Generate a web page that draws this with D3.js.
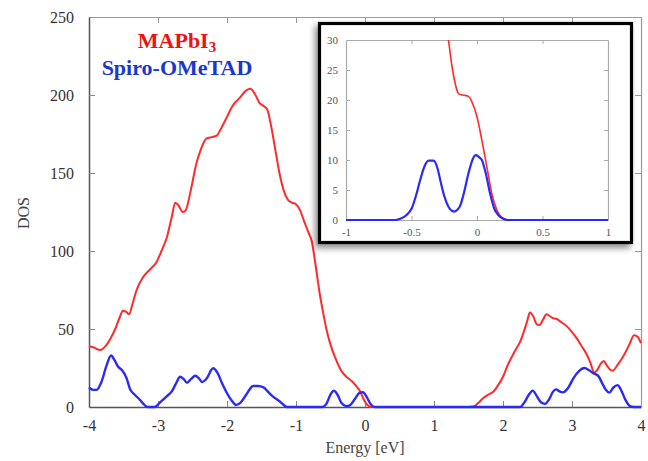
<!DOCTYPE html>
<html>
<head>
<meta charset="utf-8">
<script src="https://cdn.jsdelivr.net/npm/d3@7"></script>
<style>
  html, body { margin: 0; padding: 0; background: #fff; }
  svg { display: block; }
  text { font-family: "Liberation Serif", "DejaVu Serif", serif; }
</style>
</head>
<body>
<svg id="chart" width="648" height="461"></svg>
<script>
// ---------------- data ----------------
const seriesNames = ["MAPbI", "Spiro-OMeTAD"];
const xTicks = [-4, -3, -2, -1, 0, 1, 2, 3, 4];
const yTicks = [0, 50, 100, 150, 200, 250];
const insetXTicks = [-1, -0.5, 0, 0.5, 1];
const insetYTicks = [0, 5, 10, 15, 20, 25, 30];

const mapbiEnergy = [-4.0,-3.92,-3.84,-3.76,-3.70,-3.62,-3.55,-3.51,-3.46,-3.42,-3.37,-3.31,-3.22,-3.12,-3.02,-2.95,-2.87,-2.80,-2.75,-2.70,-2.64,-2.60,-2.52,-2.45,-2.38,-2.30,-2.22,-2.15,-2.08,-2.00,-1.92,-1.82,-1.72,-1.66,-1.60,-1.53,-1.47,-1.42,-1.36,-1.30,-1.24,-1.18,-1.12,-1.06,-1.00,-0.94,-0.89,-0.82,-0.77,-0.72,-0.65,-0.60,-0.555,-0.50,-0.435,-0.34,-0.26,-0.19,-0.12,-0.07,-0.02,0.03,0.10,1.50,1.57,1.64,1.71,1.79,1.86,1.93,2.00,2.07,2.15,2.20,2.25,2.30,2.35,2.39,2.44,2.49,2.53,2.58,2.63,2.67,2.72,2.78,2.84,2.92,3.00,3.07,3.14,3.21,3.27,3.32,3.37,3.42,3.46,3.50,3.55,3.59,3.66,3.75,3.83,3.90,3.95,4.0];
const mapbiDOS    = [39,38,36.5,39,43,50,58,61.7,61,59.4,66,75,83,88,93,100,109,122,131,129,125,126,140,155,165,172,173,174,179,186,193,198,203,204,201,195,193,191,180,165,150,139,133,131,130,126,120,112,106,92,71,59,49,40,32,23,19,16.5,13,10,5,1.5,0,0,0.3,2.5,5.6,8,9.8,14,19.4,27,34,38,42,48,55,60.5,58,53,52.6,56,59.4,58.5,57,56.4,54.5,52,48,44,39,34,28,22,24,28,29.5,27,24,23.3,27,33,40,46,45,41];

const spiroEnergy = [-4.0,-3.94,-3.89,-3.82,-3.75,-3.68,-3.63,-3.58,-3.52,-3.46,-3.40,-3.34,-3.26,-3.20,-3.15,-3.05,-2.97,-2.87,-2.80,-2.74,-2.68,-2.63,-2.58,-2.52,-2.46,-2.41,-2.36,-2.30,-2.20,-2.14,-2.07,-2.00,-1.93,-1.87,-1.80,-1.72,-1.62,-1.55,-1.47,-1.41,-1.35,-1.23,-1.13,-0.62,-0.56,-0.50,-0.45,-0.40,-0.34,-0.27,-0.22,-0.15,-0.08,-0.03,0.03,0.08,0.14,2.25,2.31,2.37,2.43,2.49,2.55,2.61,2.67,2.72,2.77,2.82,2.87,2.94,3.02,3.10,3.18,3.25,3.31,3.38,3.44,3.49,3.54,3.60,3.66,3.71,3.77,3.84,3.90,4.0];
const spiroDOS    = [12.5,11,11,16,26,33,30,26,23.5,19,11,8,4.5,1.5,0,0,3,7,10,15,19.4,18,15.5,18,20,18.5,16,18,24.8,22,15,8.8,4,1.3,3,8,13.5,13.5,12.6,10,7.3,3.4,0,0,2,8,10.5,8,2.5,0.5,1,5,9,9.5,6,2,0,0,3,7.5,10.5,7,3,2,5,9.5,11.3,10,9.4,12,18.4,23,25,23.5,21.6,20,15,11,9.2,12.5,14,11,5,0.6,0,0];

const insetMapbiEnergy = [-0.26,-0.218,-0.19,-0.167,-0.145,-0.128,-0.10,-0.065,-0.039,0.0,0.037,0.075,0.113,0.151,0.20,0.25,1.0];
const insetMapbiDOS    = [36,30,25.5,22.8,21.2,20.9,20.8,20.6,19.7,17.2,13.3,8.9,4.4,1.7,0.3,0,0];

const insetSpiroEnergy = [-1.0,-0.62,-0.586,-0.54,-0.497,-0.46,-0.433,-0.40,-0.37,-0.332,-0.30,-0.281,-0.25,-0.218,-0.19,-0.172,-0.15,-0.128,-0.10,-0.065,-0.035,-0.009,0.02,0.037,0.07,0.10,0.13,0.164,0.20,0.228,1.0];
const insetSpiroDOS    = [0,0,0.2,0.8,2,4.5,6.7,9,9.9,9.9,8.5,6.7,4,2.2,1.5,1.4,1.7,2.4,4.5,7.8,10,10.8,10.4,10,7.5,4.4,2,0.8,0.2,0,0];

// ---------------- drawing ----------------
const svg = d3.select("#chart");
const RED = "#ff2a2a", BLUE = "#2b2bf5";
const SERIF = "'Liberation Serif', 'DejaVu Serif', serif";
const fmt = d => String(d);

const defs = svg.append("defs");
const f = defs.append("filter").attr("id", "shadow").attr("x", "-10%").attr("y", "-10%").attr("width", "120%").attr("height", "125%");
f.append("feDropShadow").attr("dx", -3).attr("dy", 4).attr("stdDeviation", 3)
  .attr("flood-color", "#000").attr("flood-opacity", 0.45);

// main plot
const M = {left: 89, right: 641, top: 17, bottom: 407};
const x = d3.scaleLinear().domain([-4, 4]).range([M.left, M.right]);
const y = d3.scaleLinear().domain([0, 250]).range([M.bottom, M.top]);

const gMain = svg.append("g");
const tickLen = 6;
const xAxis = d3.axisBottom(x).tickValues(xTicks).tickSizeInner(-tickLen).tickSizeOuter(0).tickPadding(14).tickFormat(fmt);
const gx = gMain.append("g").attr("transform", `translate(0,${M.bottom})`).call(xAxis);
const xTop = d3.axisTop(x).tickValues(xTicks).tickSizeInner(-tickLen).tickSizeOuter(0).tickFormat("");
const gxt = gMain.append("g").attr("transform", `translate(0,${M.top})`).call(xTop);
const yAxis = d3.axisLeft(y).tickValues(yTicks).tickSizeInner(-tickLen).tickSizeOuter(0).tickPadding(15).tickFormat(fmt);
const gy = gMain.append("g").attr("transform", `translate(${M.left},0)`).call(yAxis);
const yRight = d3.axisRight(y).tickValues(yTicks).tickSizeInner(-tickLen).tickSizeOuter(0).tickFormat("");
const gyr = gMain.append("g").attr("transform", `translate(${M.right},0)`).call(yRight);

[gx, gy].forEach(g => {
  g.attr("font-family", SERIF).attr("font-size", 16);
  g.select(".domain").attr("stroke", "#555").attr("stroke-width", 1.5);
  g.selectAll(".tick line").attr("stroke", "#888");
  g.selectAll(".tick text").attr("fill", "#333").attr("font-family", SERIF).attr("font-size", 16);
});
[gxt, gyr].forEach(g => {
  g.select(".domain").attr("stroke", "#999").attr("stroke-width", 1.2);
  g.selectAll(".tick line").attr("stroke", "#999");
});
gx.selectAll(".tick text").attr("dy", "0.71em").attr("y", 13);
gx.selectAll(".tick line").filter(d => d === -4 || d === 4).remove();
gxt.selectAll(".tick line").filter(d => d === -4 || d === 4).remove();
gy.selectAll(".tick line").filter(d => d === 0 || d === 250).remove();
gyr.selectAll(".tick line").filter(d => d === 0 || d === 250).remove();

// axis titles
svg.append("text").attr("x", 365).attr("y", 453).attr("text-anchor", "middle")
  .attr("fill", "#444").attr("font-family", SERIF).attr("font-size", 16).text("Energy [eV]");
svg.append("text").attr("transform", "translate(29,213) rotate(-90)").attr("text-anchor", "middle")
  .attr("fill", "#444").attr("font-family", SERIF).attr("font-size", 16).text("DOS");

// curves
const lineMain = d3.line().x(d => x(d[0])).y(d => y(d[1])).curve(d3.curveMonotoneX);
const mapbiData = mapbiEnergy.map((e, i) => [e, mapbiDOS[i]]);
const spiroData = spiroEnergy.map((e, i) => [e, spiroDOS[i]]);
gMain.append("path").datum(mapbiData).attr("d", lineMain).attr("fill", "none")
  .attr("stroke", RED).attr("stroke-width", 2).attr("stroke-linejoin", "round");
gMain.append("path").datum(spiroData).attr("d", lineMain).attr("fill", "none")
  .attr("stroke", BLUE).attr("stroke-width", 2.4).attr("stroke-linejoin", "round");

// legend
const lg = svg.append("g").attr("font-family", SERIF).attr("font-weight", "bold").attr("font-size", 22);
const t1 = lg.append("text").attr("x", 177).attr("y", 48).attr("text-anchor", "middle").attr("fill", "#f01010");
t1.append("tspan").text(seriesNames[0]);
t1.append("tspan").attr("dy", 4).attr("font-size", 15).text("3");
lg.append("text").attr("x", 177).attr("y", 75).attr("text-anchor", "middle").attr("fill", "#1a38cc").text(seriesNames[1]);

// inset
const B = {left: 318, top: 22, right: 633, bottom: 244};
svg.append("rect").attr("x", B.left + 1.5).attr("y", B.top + 1.5)
  .attr("width", B.right - B.left - 3).attr("height", B.bottom - B.top - 3)
  .attr("fill", "#fff").attr("stroke", "#000").attr("stroke-width", 3.2)
  .attr("filter", "url(#shadow)");

const I = {left: 346, right: 608, top: 40, bottom: 220};
const xi = d3.scaleLinear().domain([-1, 1]).range([I.left, I.right]);
const yi = d3.scaleLinear().domain([0, 30]).range([I.bottom, I.top]);
const gIn = svg.append("g");
const it = 4;
const gxi = gIn.append("g").attr("transform", `translate(0,${I.bottom})`)
  .call(d3.axisBottom(xi).tickValues(insetXTicks).tickSizeInner(-it).tickSizeOuter(0).tickPadding(8).tickFormat(fmt));
const gxit = gIn.append("g").attr("transform", `translate(0,${I.top})`)
  .call(d3.axisTop(xi).tickValues(insetXTicks).tickSizeInner(-it).tickSizeOuter(0).tickFormat(""));
const gyi = gIn.append("g").attr("transform", `translate(${I.left},0)`)
  .call(d3.axisLeft(yi).tickValues(insetYTicks).tickSizeInner(-it).tickSizeOuter(0).tickPadding(8).tickFormat(fmt));
const gyir = gIn.append("g").attr("transform", `translate(${I.right},0)`)
  .call(d3.axisRight(yi).tickValues(insetYTicks).tickSizeInner(-it).tickSizeOuter(0).tickFormat(""));
[gxi, gxit, gyi, gyir].forEach(g => {
  g.attr("font-family", SERIF).attr("font-size", 11);
  g.select(".domain").attr("stroke", "#aaa").attr("stroke-width", 1.2);
  g.selectAll(".tick line").attr("stroke", "#aaa");
  g.selectAll(".tick text").attr("fill", "#555").attr("font-family", SERIF).attr("font-size", 11);
});
gxi.selectAll(".tick line").filter(d => d === -1 || d === 1).remove();
gxit.selectAll(".tick line").filter(d => d === -1 || d === 1).remove();
gyi.selectAll(".tick line").filter(d => d === 0 || d === 30).remove();
gyir.selectAll(".tick line").filter(d => d === 0 || d === 30).remove();

defs.append("clipPath").attr("id", "insetClip").append("rect")
  .attr("x", I.left).attr("y", I.top).attr("width", I.right - I.left).attr("height", I.bottom - I.top + 2);
const lineIn = d3.line().x(d => xi(d[0])).y(d => yi(d[1])).curve(d3.curveMonotoneX);
const gCurves = gIn.append("g").attr("clip-path", "url(#insetClip)");
gCurves.append("path").datum(insetMapbiEnergy.map((e, i) => [e, insetMapbiDOS[i]])).attr("d", lineIn)
  .attr("fill", "none").attr("stroke", RED).attr("stroke-width", 1.6);
gCurves.append("path").datum(insetSpiroEnergy.map((e, i) => [e, insetSpiroDOS[i]])).attr("d", lineIn)
  .attr("fill", "none").attr("stroke", BLUE).attr("stroke-width", 2.2);
</script>
</body>
</html>
